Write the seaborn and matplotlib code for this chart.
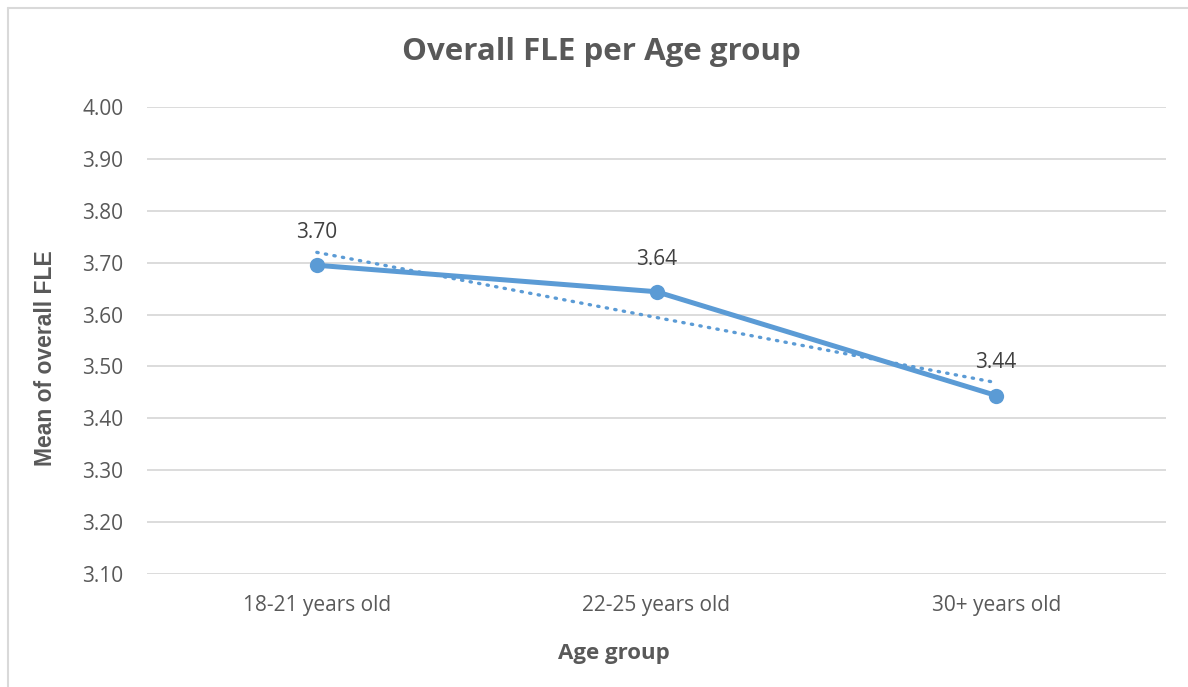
import numpy as np
import pandas as pd
import seaborn as sns
import matplotlib
matplotlib.use("Agg")
import matplotlib.pyplot as plt
from matplotlib.lines import Line2D

categories = ["18-21 years old", "22-25 years old", "30+ years old"]
means = [3.695, 3.644, 3.444]
labels = ["3.70", "3.64", "3.44"]
yticks = [3.10, 3.20, 3.30, 3.40, 3.50, 3.60, 3.70, 3.80, 3.90, 4.00]

sns.set_theme(style="white")
plt.rcParams['font.family'] = ['Open Sans', 'DejaVu Sans']

df = pd.DataFrame({"cat": categories, "mean": means, "pos": np.arange(len(categories))})

W, H = 1188, 687
fig = plt.figure(figsize=(W / 100, H / 100), dpi=100)
ax = fig.add_axes([147 / W, 1 - 574 / H, (1166 - 147) / W, (574 - 107) / H])

blue = "#5B9BD5"
grey_text = "#595959"

# linear trendline
coef = np.polyfit(df["pos"], df["mean"], 1)
tdf = pd.DataFrame({"pos": df["pos"], "trend": np.polyval(coef, df["pos"])})
sns.lineplot(data=tdf, x="pos", y="trend", ax=ax, color=blue, lw=2.4,
             linestyle=(0, (0.4, 2.2)), zorder=3)
ax.lines[-1].set_dash_capstyle("round")

sns.lineplot(data=df, x="pos", y="mean", ax=ax, color=blue, lw=3.6,
             marker="o", markersize=11, markeredgewidth=0, zorder=4)

for p, v, lab in zip(df["pos"], df["mean"], labels):
    ax.annotate(lab, (p, v), xytext=(0, 23.5), textcoords="offset points",
                ha="center", va="center", fontsize=15, color="#404040")

ax.set_xlim(-0.5, len(categories) - 0.5)
ax.set_ylim(3.10, 4.00)
ax.set_yticks(yticks)
ax.set_yticklabels([f"{t:.2f}" for t in yticks], fontsize=15, color=grey_text)
ax.set_xticks(df["pos"])
ax.set_xticklabels(categories, fontsize=15, color=grey_text)
ax.tick_params(axis="both", length=0)
ax.tick_params(axis="y", pad=17)
ax.tick_params(axis="x", pad=15)
ax.grid(axis="y", color="#D9D9D9", lw=1.3)
ax.grid(axis="x", visible=False)
for s in ax.spines.values():
    s.set_visible(False)
ax.set_axisbelow(True)

ax.set_xlabel("Age group", fontsize=16, fontweight="bold", color=grey_text)
ax.xaxis.set_label_coords((614 - 147) / 1019, (574 - 653) / 467)
ax.xaxis.label.set_va("center")
ax.set_ylabel("Mean of overall FLE", fontsize=16.5, fontweight="bold", color=grey_text,
              family=["Liberation Sans", "DejaVu Sans"])
ax.yaxis.set_label_coords((46 - 147) / 1019, (574 - 358) / 467)
ax.yaxis.label.set_va("center")

fig.text(601 / W, 1 - 52 / H, "Overall FLE per Age group", ha="center", va="center",
         fontsize=22.5, fontweight="bold", color=grey_text)

# chart border (top and left visible)
fig.add_artist(Line2D([8 / W, 1.0], [1 - 8 / H, 1 - 8 / H], transform=fig.transFigure,
                      color="#D9D9D9", lw=1.5))
fig.add_artist(Line2D([8 / W, 8 / W], [0.0, 1 - 8 / H], transform=fig.transFigure,
                      color="#D9D9D9", lw=1.5))

fig.savefig("out.png", dpi=100)
